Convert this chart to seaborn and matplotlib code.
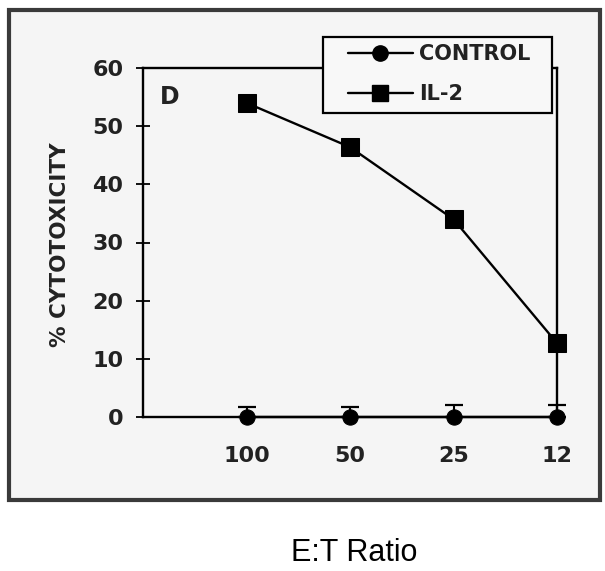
import matplotlib
matplotlib.use("Agg")
import matplotlib.pyplot as plt
import seaborn as sns
import pandas as pd
from matplotlib.patches import Rectangle
from matplotlib.lines import Line2D

# ---- data ----
ratios = ["100", "50", "25", "12"]
control = [0.0, 0.0, 0.0, 0.0]
control_err = [1.7, 1.7, 2.1, 2.1]
il2 = [54.0, 46.4, 34.0, 12.7]
yticks = [0, 10, 20, 30, 40, 50, 60]

sns.set_theme(style="white")
plt.rcParams["font.family"] = ["DejaVu Sans"]

pos = list(range(1, len(ratios) + 1))
df = pd.DataFrame({
    "pos": pos * 2,
    "val": control + il2,
    "series": ["CONTROL"] * len(ratios) + ["IL-2"] * len(ratios),
})

fig = plt.figure(figsize=(6.05, 5.71), dpi=100)
fig.patch.set_facecolor("white")

# outer scanned frame
frame = Rectangle((9 / 605, 1 - 500 / 571), (600 - 9) / 605, (500 - 10) / 571,
                  transform=fig.transFigure, facecolor="#f5f5f5",
                  edgecolor="#3a3a3a", linewidth=3.0, zorder=-5)
fig.patches.append(frame)

ax = fig.add_axes([143 / 605, 1 - 417 / 571, (557 - 143) / 605, (417 - 68) / 571])
ax.set_zorder(2)
ax.set_facecolor("none")

sns.lineplot(data=df, x="pos", y="val", hue="series", style="series",
             markers={"CONTROL": "o", "IL-2": "s"}, dashes=False,
             palette={"CONTROL": "black", "IL-2": "black"},
             markersize=11, linewidth=1.7, markeredgecolor="black",
             ax=ax, legend=False, clip_on=False, zorder=3)
for ln in ax.lines:
    if ln.get_marker() == "s":
        ln.set_markersize(13)

ax.errorbar(pos, control, yerr=[[0] * len(control), control_err], fmt="none",
            ecolor="black", elinewidth=1.5, capsize=6.5, capthick=1.6,
            clip_on=False, zorder=2)

ax.set_xlim(0, 4)
ax.set_ylim(0, 60)
ax.set_xticks(pos)
ax.set_xticklabels(ratios)
ax.set_yticks(yticks)
ax.tick_params(axis="y", left=True, direction="inout", length=10, width=1.3,
               colors="black", labelsize=16, pad=9)
ax.tick_params(axis="x", bottom=False, length=0, labelsize=16, pad=21)
for lab in ax.get_xticklabels() + ax.get_yticklabels():
    lab.set_fontweight("bold")
    lab.set_color("#222222")
for s in ax.spines.values():
    s.set_color("black")
    s.set_linewidth(1.7)
ax.set_xlabel("")
ax.set_ylabel("")

ax.text(0.26, 55, "D", fontsize=17, fontweight="bold", ha="center", va="center",
        color="#222222")

fig.text(60 / 605, 1 - 245 / 571, "% CYTOTOXICITY", rotation=90, ha="center",
         va="center", fontsize=15.5, fontweight="bold", color="#222222")

# legend box (drawn over the top spine)
legbox = Rectangle((323 / 605, 1 - 113 / 571), (552 - 323) / 605, (113 - 37) / 571,
                   transform=fig.transFigure, facecolor="#f8f8f8",
                   edgecolor="black", linewidth=1.6, zorder=9)
fig.patches.append(legbox)

handles = [
    Line2D([], [], color="black", marker="o", markersize=11, linewidth=1.7),
    Line2D([], [], color="black", marker="s", markersize=12, linewidth=1.7),
]
leg = fig.legend(handles, ["CONTROL", "IL-2"], loc="upper left",
                 bbox_to_anchor=(348 / 605, 1 - 44 / 571), frameon=False,
                 fontsize=15, handlelength=3.1, handletextpad=0.3,
                 borderpad=0, labelspacing=0.95, borderaxespad=0)
for t in leg.get_texts():
    t.set_fontweight("bold")
    t.set_color("#222222")
leg.set_zorder(10)

fig.text(354 / 605, 1 - 553 / 571, "E:T Ratio", ha="center", va="center",
         fontsize=22, color="black", family=["Liberation Sans", "DejaVu Sans"])

fig.savefig("out.png", dpi=100)
